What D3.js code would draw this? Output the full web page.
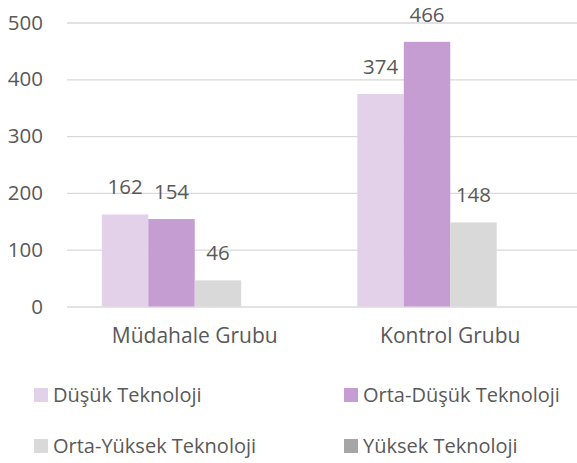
<!DOCTYPE html>
<html>
<head>
<meta charset="utf-8">
<script src="https://cdn.jsdelivr.net/npm/d3@7"></script>
<style>
  body { margin: 0; background: #fff; }
  text { font-family: "Open Sans", sans-serif; fill: #595959; }
</style>
</head>
<body>
<div id="chart"></div>
<script>
var categories = ["Müdahale Grubu", "Kontrol Grubu"];
var seriesNames = ["Düşük Teknoloji", "Orta-Düşük Teknoloji", "Orta-Yüksek Teknoloji", "Yüksek Teknoloji"];
var dusuk = [162, 374];
var ortaDusuk = [154, 466];
var ortaYuksek = [46, 148];
var yuksek = [0, 0];
var yTicks = [0, 100, 200, 300, 400, 500];

groupedbars();

function groupedbars() {
  var svg = d3.select("#chart")
              .append("svg")
              .attr("width", 577)
              .attr("height", 463);

  var values = [dusuk, ortaDusuk, ortaYuksek, yuksek];
  var color = d3.scaleOrdinal()
      .domain(seriesNames)
      .range(["#e3d1ea", "#c69dd2", "#d9d9d9", "#a6a6a6"]);

  // plot area
  var left = 67, right = 578, top = 22.5, bottom = 306.5;

  var x0 = d3.scaleBand().domain(categories).range([left, right]);
  var x1 = d3.scaleBand().domain(seriesNames).range([0, x0.bandwidth()])
      .paddingInner(0).paddingOuter(0.75);
  var y = d3.scaleLinear().domain([0, 500]).range([bottom, top]);

  // gridlines + tick labels
  var yAxis = svg.append("g")
      .attr("transform", "translate(" + left + ",0)")
      .call(d3.axisLeft(y).tickValues(yTicks).tickSize(-(577 - left)).tickPadding(24));
  yAxis.select(".domain").remove();
  yAxis.selectAll("line").attr("stroke", "#d9d9d9").attr("stroke-width", 1.3);
  yAxis.selectAll("text").attr("font-size", "20.5px").attr("font-family", "Open Sans").attr("fill", "#595959");

  // bars
  var groups = svg.selectAll(".grp")
      .data(categories)
      .enter()
      .append("g")
      .attr("transform", function(d) { return "translate(" + x0(d) + ",0)"; });

  groups.selectAll("rect")
      .data(function(d, i) { return seriesNames.map(function(s, j) { return {s: s, v: values[j][i]}; }); })
      .enter()
      .append("rect")
      .attr("x", function(d) { return x1(d.s); })
      .attr("y", function(d) { return y(d.v); })
      .attr("width", x1.bandwidth())
      .attr("height", function(d) { return y(0) - y(d.v); })
      .style("fill", function(d) { return color(d.s); });

  groups.selectAll(".lbl")
      .data(function(d, i) { return seriesNames.slice(0, 3).map(function(s, j) { return {s: s, v: values[j][i]}; }); })
      .enter()
      .append("text")
      .attr("x", function(d) { return x1(d.s) + x1.bandwidth() / 2; })
      .attr("y", function(d) { return y(d.v) - 20; })
      .attr("font-size", "20.5px")
      .style("text-anchor", "middle")
      .text(function(d) { return d.v; });

  // category labels
  svg.selectAll(".cat")
      .data(categories)
      .enter()
      .append("text")
      .attr("x", function(d) { return x0(d) + x0.bandwidth() / 2; })
      .attr("y", 343)
      .attr("font-size", "21px")
      .style("text-anchor", "middle")
      .text(function(d) { return d; });

  // legend
  var legend = svg.selectAll(".leg")
      .data(seriesNames)
      .enter()
      .append("g")
      .attr("transform", function(d, i) {
        return "translate(" + (i % 2 === 0 ? 34 : 344) + "," + (i < 2 ? 388 : 439) + ")";
      });
  legend.append("rect")
      .attr("width", 14)
      .attr("height", 14)
      .style("fill", function(d) { return color(d); });
  legend.append("text")
      .attr("x", 19)
      .attr("y", 13.5)
      .attr("font-size", "20px")
      .text(function(d) { return d; });
}
</script>
</body>
</html>
